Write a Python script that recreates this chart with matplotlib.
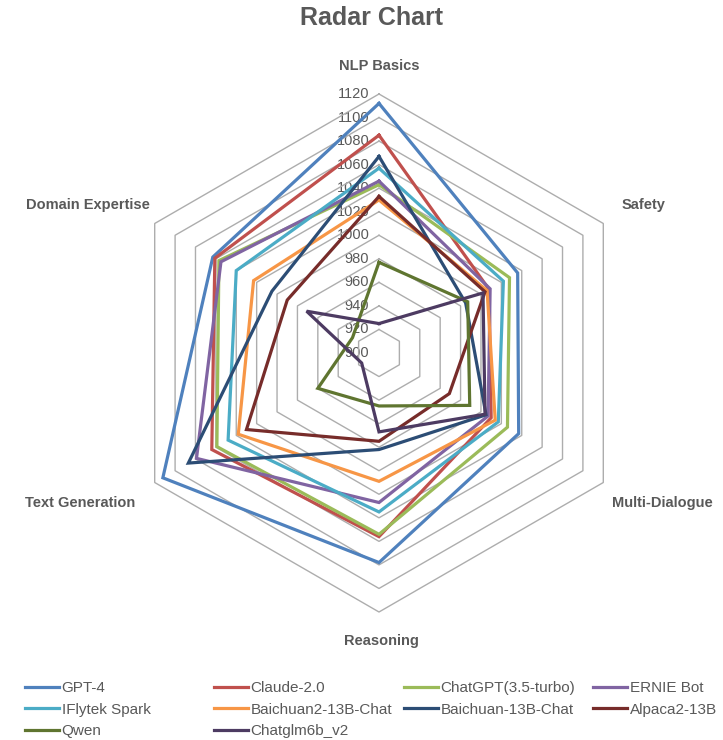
import numpy as np
import matplotlib.pyplot as plt

plt.rcParams['font.family'] = ['Liberation Sans', 'DejaVu Sans']

# ----------------------------------------------------------------------------------
# dane
categories = ["NLP Basics", "Safety", "Multi-Dialogue", "Reasoning",
              "Text Generation", "Domain Expertise"]
models = ["GPT-4", "Claude-2.0", "ChatGPT(3.5-turbo)", "ERNIE Bot",
          "IFlytek Spark", "Baichuan2-13B-Chat", "Baichuan-13B-Chat", "Alpaca2-13B",
          "Qwen", "Chatglm6b_v2"]

gpt4 = [1112, 1036, 1037, 1078, 1112, 1063]
claude = [1085, 1008, 1010, 1056, 1064, 1061]
chatgpt = [1043, 1028, 1026, 1054, 1059, 1057]
ernie = [1046, 1009, 1007, 1027, 1079, 1055]
iflytek = [1057, 1022, 1017, 1035, 1048, 1040]
baichuan2 = [1030, 1006, 1014, 1009, 1038, 1023]
baichuan13b = [1067, 985, 1005, 982, 1087, 1005]
alpaca2 = [1033, 1004, 969, 975, 1030, 990]
qwen = [977, 987, 989, 945, 960, 926]
chatglm = [925, 1002, 1004, 967, 917, 971]

ticks = list(range(900, 1121, 20))

series = [gpt4, claude, chatgpt, ernie, iflytek, baichuan2, baichuan13b, alpaca2, qwen, chatglm]
colors = ['#4F81BD', '#C0504D', '#9BBB59', '#8064A2', '#4BACC6',
          '#F79646', '#2C4D75', '#772C2A', '#5F7530', '#4D3B62']

W, H = 723, 740
TXT = '#595959'

fig = plt.figure(figsize=(W / 100, H / 100), dpi=100)

# srodek wykresu i promien w pikselach
cx, cy, R = 379, 353, 259
ax = fig.add_axes([(cx - R) / W, (H - cy - R) / H, 2 * R / W, 2 * R / H], polar=True)
ax.set_theta_offset(np.pi / 2)
ax.set_theta_direction(-1)
ax.set_ylim(ticks[0], ticks[-1])
ax.grid(False)
ax.spines['polar'].set_visible(False)
ax.set_xticks([])
ax.set_yticks([])
ax.patch.set_alpha(0)

n = len(categories)
angles = np.arange(n) * 2 * np.pi / n
closed = np.append(angles, angles[0])

# siatka w ksztalcie szesciokatow
for t in ticks[1:]:
    ax.plot(closed, [t] * (n + 1), color='#ADADAD', lw=1.0, zorder=1, clip_on=False)

# etykiety wartosci na osi pionowej
for t in ticks:
    ax.annotate(str(t), xy=(0, t), xytext=(-7, 0), textcoords='offset points',
                ha='right', va='center', fontsize=10.5, color=TXT, zorder=0)

lines = []
for name, vals, col in zip(models, series, colors):
    ln, = ax.plot(closed, vals + vals[:1], color=col, lw=2.3, label=name,
                  zorder=3, clip_on=False, solid_joinstyle='miter')
    lines.append(ln)

# etykiety kategorii
label_pos = [(379, 66, 'center'), (622, 205, 'left'), (612, 503, 'left'),
             (381, 641, 'center'), (25, 503, 'left'), (88, 205, 'center')]
for cat, (x, y, ha) in zip(categories, label_pos):
    fig.text(x / W, 1 - y / H, cat, ha=ha, va='center', fontsize=10.5,
             fontweight='bold', color=TXT)

fig.text(372 / W, 1 - 18 / H, "Radar Chart", ha='center', va='center',
         fontsize=18, fontweight='bold', color=TXT)

# legenda: cztery kolumny, wypelniane wierszami
col_x = [25, 214, 404, 593]
for c, x in enumerate(col_x):
    hs = [lines[i] for i in range(c, len(lines), 4)]
    fig.legend(handles=hs, loc='upper left', bbox_to_anchor=(x / W, 1 - 681 / H),
               frameon=False, fontsize=11, labelcolor=TXT, handlelength=2.2,
               handletextpad=0.2, labelspacing=0.5, borderpad=0, borderaxespad=0)

fig.savefig('out.png', dpi=100)
